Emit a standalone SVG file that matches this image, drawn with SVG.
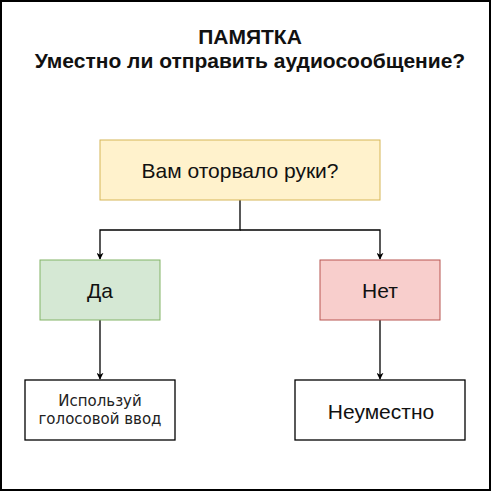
<svg xmlns="http://www.w3.org/2000/svg" width="491" height="491" viewBox="0 0 491 491">
<style>
.t{font-family:"Liberation Sans",Arial,sans-serif;fill:#111;}
.ttl{font-size:21px;font-weight:bold;text-anchor:middle;}
.lbl{font-size:21px;text-anchor:middle;}
.sm{font-family:"DejaVu Sans",Verdana,sans-serif;font-size:15px;text-anchor:middle;fill:#222;}
.ln{fill:none;stroke:#000;stroke-width:1.3;}
</style>
<defs>
<marker id="ah" viewBox="0 0 10 10" refX="9" refY="5" markerWidth="7" markerHeight="7" markerUnits="userSpaceOnUse" orient="auto">
<path d="M0,0 L10,5 L0,10 L3,5 z" fill="#000"/>
</marker>
</defs>
<rect x="0" y="0" width="491" height="491" fill="#fff"/>
<rect x="1" y="1" width="489" height="489" fill="none" stroke="#000" stroke-width="2"/>
<g id="title">
<text class="t ttl" x="250" y="44">ПАМЯТКА</text>
<text class="t ttl" x="250" y="68">Уместно ли отправить аудиосообщение?</text>
</g>
<g id="connectors">
<path class="ln" d="M240,200 V230 H100 V259" marker-end="url(#ah)"/>
<path class="ln" d="M240,230 H380 V259" marker-end="url(#ah)"/>
<path class="ln" d="M100,320 V379" marker-end="url(#ah)"/>
<path class="ln" d="M380,320 V379" marker-end="url(#ah)"/>
</g>
<g id="q">
<rect x="100" y="140" width="280" height="60" fill="#fff2cc" stroke="#d6b656"/>
<text class="t lbl" x="240" y="178">Вам оторвало руки?</text>
</g>
<g id="yes">
<rect x="40" y="260" width="120" height="60" fill="#d5e8d4" stroke="#82b366"/>
<text class="t lbl" x="100" y="298">Да</text>
</g>
<g id="no">
<rect x="320" y="260" width="120" height="60" fill="#f8cecc" stroke="#b85450"/>
<text class="t lbl" x="380" y="298">Нет</text>
</g>
<g id="voice">
<rect x="25" y="380" width="150" height="60" fill="#fff" stroke="#000" stroke-width="1.3"/>
<text class="sm" x="100" y="406">Используй</text>
<text class="sm" x="100" y="424">голосовой ввод</text>
</g>
<g id="inappropriate">
<rect x="295" y="380" width="170" height="60" fill="#fff" stroke="#000" stroke-width="1.3"/>
<text class="t lbl" x="381" y="419">Неуместно</text>
</g>
</svg>
